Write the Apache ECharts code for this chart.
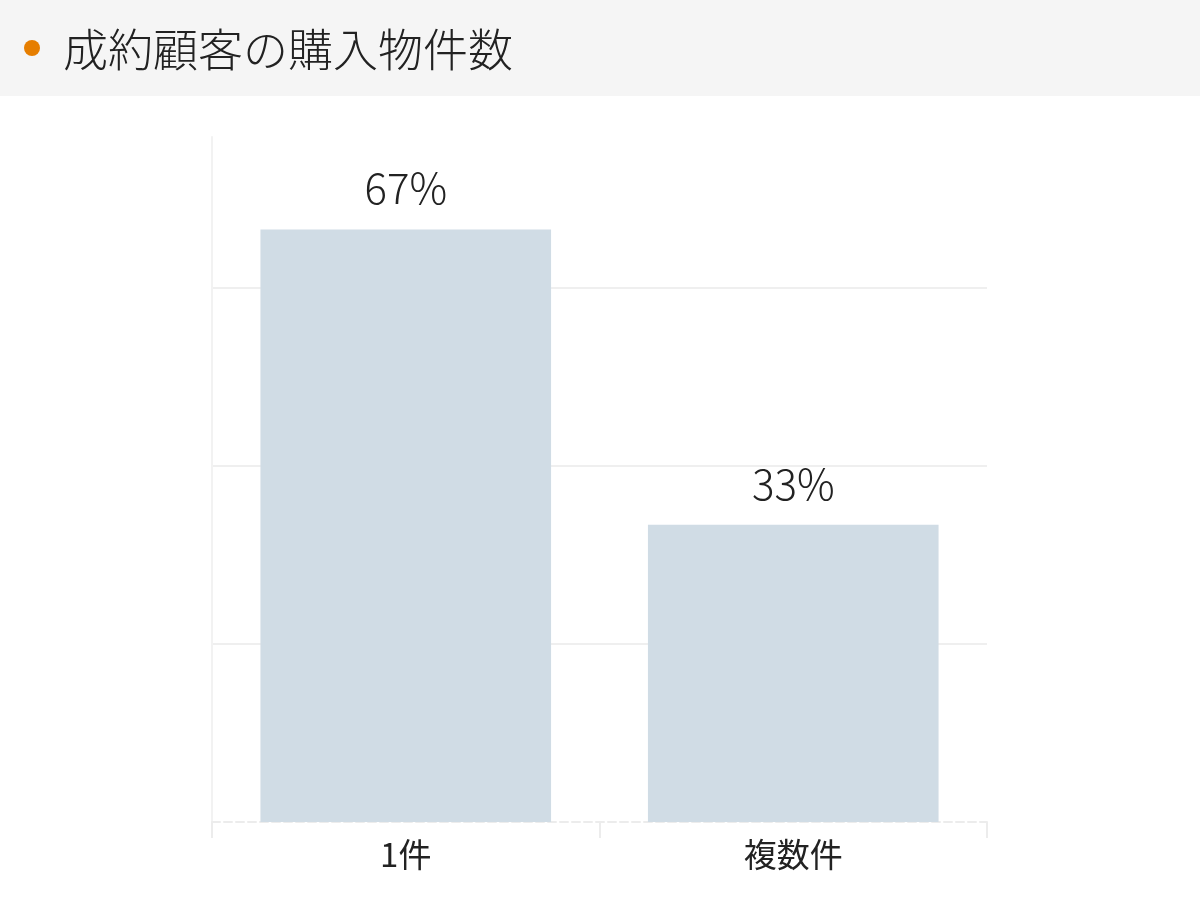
<!DOCTYPE html>
<html>
<head>
<meta charset="utf-8">
<script src="https://cdn.jsdelivr.net/npm/echarts@6/dist/echarts.min.js"></script>
<style>
  html, body {margin:0; padding:0; background:#fff;}
  #chart {width:1200px; height:900px;}
</style>
</head>
<body>
<div id="chart"></div>
<script>
const titleText = '成約顧客の購入物件数';
const categories = ['1件', '複数件'];
const shares = [66.6, 33.4];
const axisMax = 77;
const axisStep = 20;

const font = '"Noto Sans CJK JP", "Noto Sans", sans-serif';
let chart = echarts.init(document.getElementById('chart'));

let option = {
    animation: false,
    backgroundColor: '#ffffff',
    textStyle: {fontFamily: font},
    graphic: [
        {type: 'rect', left: 0, top: 0, z: -1, shape: {width: 1200, height: 96}, style: {fill: '#f5f5f5'}},
        {type: 'circle', shape: {cx: 32, cy: 48, r: 8}, style: {fill: '#e67e00'}}
    ],
    title: {
        text: titleText,
        left: 58,
        top: 17,
        textStyle: {fontSize: 45, fontWeight: 300, color: '#222', fontFamily: font, lineHeight: 56}
    },
    grid: {left: 212, right: 213, top: 137, bottom: 78, containLabel: false},
    xAxis: {
        type: 'category',
        data: categories,
        axisLine: {show: true, lineStyle: {color: '#ececec', width: 2, type: 'dashed'}},
        axisTick: {show: true, length: 16, lineStyle: {color: '#ececec', width: 2}},
        axisLabel: {fontSize: 33, color: '#222', margin: 16, fontFamily: font}
    },
    yAxis: {
        type: 'value',
        min: 0,
        max: axisMax,
        interval: axisStep,
        axisLine: {show: true, lineStyle: {color: '#f2f2f2', width: 2}},
        axisTick: {show: false},
        axisLabel: {show: false},
        splitLine: {show: true, showMinLine: false, showMaxLine: false, lineStyle: {color: '#efefef', width: 2}}
    },
    series: [{
        type: 'bar',
        data: shares,
        barWidth: '75%',
        itemStyle: {color: '#d0dce5'},
        label: {
            show: true,
            position: 'top',
            distance: 20,
            formatter: p => Math.round(p.value) + '%',
            fontSize: 42,
            fontWeight: 300,
            color: '#222',
            fontFamily: font
        }
    }]
};

chart.setOption(option);
</script>
</body>
</html>
